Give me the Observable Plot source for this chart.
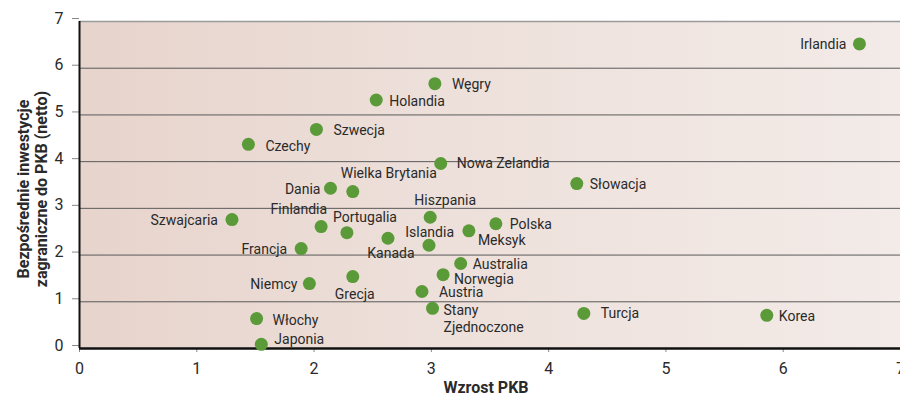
<!DOCTYPE html>
<html>
<head>
<meta charset="utf-8">
<script src="https://cdn.jsdelivr.net/npm/d3@7"></script>
<script src="https://cdn.jsdelivr.net/npm/@observablehq/plot@0.6"></script>
<style>
  html, body { margin: 0; padding: 0; background: #ffffff; }
  #chart svg { display: block; }
</style>
</head>
<body>
<div id="chart"></div>
<script>
// ---- data ----
const countries = ["Irlandia","Węgry","Holandia","Szwecja","Czechy","Nowa Zelandia","Słowacja","Dania","Wielka Brytania","Hiszpania","Szwajcaria","Polska","Finlandia","Portugalia","Kanada","Islandia","Meksyk","Francja","Niemcy","Grecja","Australia","Norwegia","Austria","Stany\nZjednoczone","Turcja","Korea","Włochy","Japonia"];
const gdpGrowth = [6.65,3.03,2.53,2.02,1.44,3.08,4.24,2.14,2.33,2.99,1.30,3.55,2.06,2.28,2.63,2.98,3.32,1.89,1.96,2.33,3.25,3.10,2.92,3.01,4.30,5.86,1.51,1.55];
const fdiNet    = [6.52,5.67,5.32,4.69,4.37,3.96,3.53,3.43,3.36,2.81,2.76,2.67,2.61,2.48,2.36,2.21,2.52,2.14,1.39,1.54,1.82,1.58,1.22,0.86,0.75,0.71,0.64,0.09];
const xTicks = [0,1,2,3,4,5,6,7];
const yTicks = [0,1,2,3,4,5,6,7];
const xTitle = "Wzrost PKB";
const yTitle = "Bezpośrednie inwestycje\nzagraniczne do PKB (netto)";

// label placement (style only): [textAnchor, dx, dy]
const labelPlacement = {
  "Irlandia": ["end",-13,0], "Węgry": ["start",17,0], "Holandia": ["start",13,1],
  "Szwecja": ["start",17,0], "Czechy": ["start",17,1], "Nowa Zelandia": ["start",16,-1],
  "Słowacja": ["start",13,0], "Dania": ["end",-10,0], "Wielka Brytania": ["start",-12,-19],
  "Hiszpania": ["middle",15,-18], "Szwajcaria": ["end",-14,0], "Polska": ["start",14,0],
  "Finlandia": ["end",6,-18], "Portugalia": ["start",-14,-16], "Kanada": ["middle",3,14],
  "Islandia": ["end",25,-14], "Meksyk": ["start",9,9], "Francja": ["end",-14,0],
  "Niemcy": ["end",-12,0], "Grecja": ["middle",2,17], "Australia": ["start",12,0],
  "Norwegia": ["start",11,4], "Austria": ["start",17,0], "Stany\nZjednoczone": ["start",11,10],
  "Turcja": ["start",17,-1], "Korea": ["start",12,0], "Włochy": ["start",16,1], "Japonia": ["start",13,-6]
};

const data = countries.map((c, i) => ({country: c, x: gdpGrowth[i], y: fdiNet[i]}));

const FONT = "Roboto, 'Liberation Sans', sans-serif";
const TXT = "#2a2a2a";

const labelMarks = data.map(d => {
  const [anchor, dx, dy] = labelPlacement[d.country];
  return Plot.text([d], {x: "x", y: "y", text: "country", textAnchor: anchor, dx, dy,
    fill: TXT, fontSize: 14, lineHeight: 1.2});
});

const plot = Plot.plot({
  width: 900,
  height: 401,
  marginLeft: 79,
  marginRight: 0,
  marginTop: 21,
  marginBottom: 53,
  style: {fontFamily: FONT, fontSize: "16px", color: TXT, background: "transparent", overflow: "visible"},
  x: {domain: [0, 7], ticks: xTicks, label: null},
  y: {domain: [0, 7], ticks: yTicks, label: null},
  marks: [
    Plot.frame({fill: "url(#bgGrad)", stroke: null}),
    Plot.ruleY(yTicks.filter(v => v > 0 && v < 7), {stroke: "#5a5a5a", strokeWidth: 1}),
    Plot.ruleY([7], {stroke: "#9a9a9a", strokeWidth: 1.5}),
    Plot.axisY({ticks: yTicks, tickFormat: "d", tickSize: 7, tickPadding: 9, stroke: "#888", fill: TXT, fontSize: 16, dy: -3}),
    Plot.axisX({ticks: xTicks, tickFormat: "d", tickSize: 4, tickPadding: 10, stroke: "#888", fill: TXT, fontSize: 16}),
    Plot.ruleX([0], {stroke: "#111", strokeWidth: 2}),
    Plot.ruleY([0], {stroke: "#111", strokeWidth: 2.5}),
    Plot.dot(data, {x: "x", y: "y", r: 6.5, fill: "#5b9a38", stroke: null}),
    ...labelMarks,
    Plot.text([xTitle], {frameAnchor: "bottom", dy: 44, fontWeight: "bold", fontSize: 16, fill: TXT, dx: -4}),
    Plot.text([yTitle], {frameAnchor: "left", textAnchor: "middle", rotate: -90, dx: -47, dy: 4, fontWeight: "bold", fontSize: 16, fill: TXT, lineHeight: 1.1})
  ]
});

plot.insertAdjacentHTML("afterbegin",
  '<defs><linearGradient id="bgGrad" x1="0" y1="0" x2="1" y2="0">' +
  '<stop offset="0" stop-color="#e7d4cc"/>' +
  '<stop offset="0.5" stop-color="#eee1dc"/>' +
  '<stop offset="1" stop-color="#f3ebe8"/>' +
  '</linearGradient></defs>');

document.getElementById("chart").appendChild(plot);
</script>
</body>
</html>
